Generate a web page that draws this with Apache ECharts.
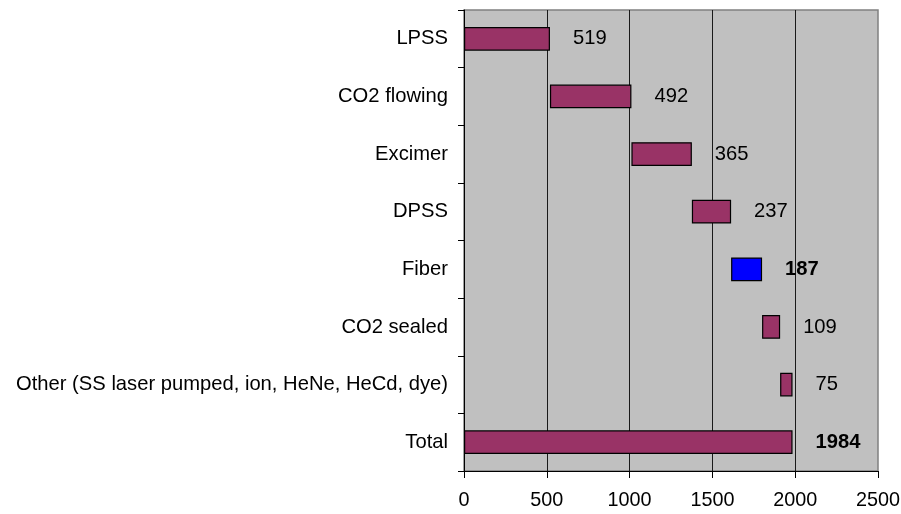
<!DOCTYPE html>
<html>
<head>
<meta charset="utf-8">
<script src="https://cdn.jsdelivr.net/npm/echarts@6/dist/echarts.min.js"></script>
<style>html,body{margin:0;padding:0;background:#fff}#c{width:901px;height:514px}</style>
</head>
<body>
<div id="c"></div>
<script>
const categories = ['LPSS', 'CO2 flowing', 'Excimer', 'DPSS', 'Fiber', 'CO2 sealed', 'Other (SS laser pumped, ion, HeNe, HeCd, dye)', 'Total'];
const values = [519, 492, 365, 237, 187, 109, 75, 1984];
const totalCategory = 'Total';
const highlightCategory = 'Fiber';
const boldLabels = ['Fiber', 'Total'];
const xTicks = [0, 500, 1000, 1500, 2000, 2500];

// waterfall offsets: running sum of previous segments, total starts at 0
const offsets = [];
let run = 0;
categories.forEach((c, i) => {
  if (c === totalCategory) { offsets.push(0); }
  else { offsets.push(run); run += values[i]; }
});

const FONT = '"Liberation Sans", Arial, sans-serif';
const chart = echarts.init(document.getElementById('c'), null, {renderer: 'canvas'});
chart.setOption({
  animation: false,
  backgroundColor: '#ffffff',
  textStyle: {fontFamily: FONT},
  grid: {left: 464, right: 23, top: 10, bottom: 43, containLabel: false, outerBoundsMode: 'none',
         show: true, backgroundColor: '#C0C0C0', borderColor: '#808080', borderWidth: 1.5},
  xAxis: {
    type: 'value', min: xTicks[0], max: xTicks[xTicks.length - 1], interval: 500,
    axisLine: {show: true, lineStyle: {color: '#000', width: 1}},
    axisTick: {show: true, length: 7, inside: false, lineStyle: {color: '#000'}},
    axisLabel: {show: true, margin: 20, fontSize: 19.8, color: '#000', fontFamily: FONT,
                formatter: v => String(v)},
    splitLine: {show: true, showMinLine: false, showMaxLine: false, lineStyle: {color: '#1a1a1a', width: 1}}
  },
  yAxis: {
    type: 'category', data: categories, inverse: true,
    axisLine: {show: true, lineStyle: {color: '#000', width: 1}},
    axisTick: {show: true, length: 6, inside: false, alignWithLabel: false, lineStyle: {color: '#000'}},
    axisLabel: {show: true, margin: 16, fontSize: 20.2, color: '#000', fontFamily: FONT},
    splitLine: {show: false}
  },
  series: [
    {
      type: 'bar', stack: 'w', silent: true, barWidth: '41%',
      itemStyle: {color: 'transparent', borderWidth: 0},
      data: offsets
    },
    {
      type: 'bar', stack: 'w', barWidth: '41%',
      itemStyle: {color: '#993366', borderColor: '#000', borderWidth: 1.2},
      label: {show: true, position: 'right', distance: 23, fontSize: 20.2, color: '#000', fontFamily: FONT},
      data: values.map((v, i) => ({
        value: v,
        itemStyle: categories[i] === highlightCategory ? {color: '#0000FF'} : undefined,
        label: boldLabels.includes(categories[i]) ? {fontWeight: 'bold'} : undefined
      }))
    }
  ]
});
</script>
</body>
</html>
